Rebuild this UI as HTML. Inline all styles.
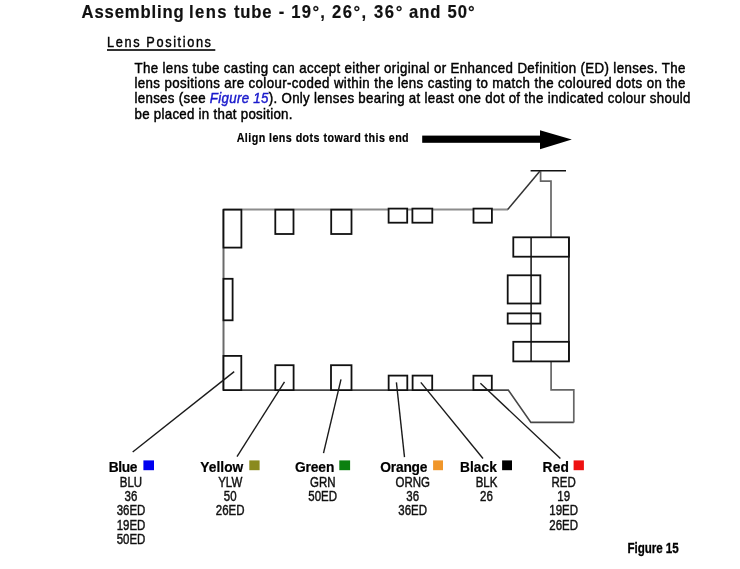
<!DOCTYPE html>
<html><head><meta charset="utf-8"><style>
html,body{margin:0;padding:0;background:#fff;width:740px;height:569px;overflow:hidden}
svg{display:block;font-family:"Liberation Sans", sans-serif;filter:blur(0.35px)}
</style></head><body>
<svg width="740" height="569" viewBox="0 0 740 569">
<path d="M508,209.5 L223.5,209.5" fill="none" stroke="#8c8c8c" stroke-width="2"/>
<path d="M223.5,209.5 L223.5,390.1" fill="none" stroke="#6a6a6a" stroke-width="2"/>
<path d="M223.5,390.1 L508.3,390.1 L530.9,422.4 L573.8,422.4" fill="none" stroke="#474747" stroke-width="1.6"/>
<path d="M573.8,422.4 L573.8,389.9 L551.1,389.9 L551.1,361.5" fill="none" stroke="#666" stroke-width="1.7"/>
<path d="M507.7,209.5 L539.8,171.3" fill="none" stroke="#333" stroke-width="1.5"/>
<path d="M540.6,171.3 L540.6,181.2 L551,181.2 L551,237.4" fill="none" stroke="#666" stroke-width="1.7"/>
<path d="M530.6,170.8 L566,170.8" fill="none" stroke="#111" stroke-width="1.6"/>
<rect x="223.5" y="209.7" width="17.900000000000006" height="37.900000000000006" fill="#fff" stroke="#111" stroke-width="1.8"/>
<rect x="275.3" y="209.7" width="18.19999999999999" height="24.30000000000001" fill="#fff" stroke="#111" stroke-width="1.8"/>
<rect x="331.2" y="209.7" width="20.30000000000001" height="24.30000000000001" fill="#fff" stroke="#111" stroke-width="1.8"/>
<rect x="388.6" y="208.6" width="18.599999999999966" height="14.099999999999994" fill="#fff" stroke="#111" stroke-width="1.8"/>
<rect x="412.4" y="208.6" width="19.900000000000034" height="14.099999999999994" fill="#fff" stroke="#111" stroke-width="1.8"/>
<rect x="473.5" y="208.6" width="18.399999999999977" height="14.099999999999994" fill="#fff" stroke="#111" stroke-width="1.8"/>
<rect x="223.5" y="278.8" width="9.099999999999994" height="41.5" fill="#fff" stroke="#111" stroke-width="1.8"/>
<rect x="223.5" y="355.9" width="17.80000000000001" height="34.200000000000045" fill="#fff" stroke="#111" stroke-width="1.8"/>
<rect x="275.3" y="365.2" width="18.30000000000001" height="24.900000000000034" fill="#fff" stroke="#111" stroke-width="1.8"/>
<rect x="331.0" y="365.2" width="20.5" height="24.900000000000034" fill="#fff" stroke="#111" stroke-width="1.8"/>
<rect x="388.65" y="375.6" width="18.650000000000034" height="14.5" fill="#fff" stroke="#111" stroke-width="1.8"/>
<rect x="412.6" y="375.6" width="19.599999999999966" height="14.5" fill="#fff" stroke="#111" stroke-width="1.8"/>
<rect x="473.4" y="375.7" width="18.400000000000034" height="14.300000000000011" fill="#fff" stroke="#111" stroke-width="1.8"/>
<path d="M568.9,237.3 L568.9,361.4" fill="none" stroke="#111" stroke-width="1.6"/>
<rect x="513.3" y="237.3" width="55.60000000000002" height="19.399999999999977" fill="#fff" stroke="#111" stroke-width="1.8"/>
<rect x="513.3" y="341.8" width="55.60000000000002" height="19.599999999999966" fill="#fff" stroke="#111" stroke-width="1.8"/>
<rect x="507.7" y="275.3" width="32.650000000000034" height="28.19999999999999" fill="#fff" stroke="#111" stroke-width="1.8"/>
<rect x="507.7" y="313.4" width="32.650000000000034" height="10.200000000000045" fill="#fff" stroke="#111" stroke-width="1.8"/>
<path d="M531.1,237.3 L531.1,361.4" fill="none" stroke="#111" stroke-width="1.5"/>
<path d="M234.2,371.6 L132.7,452" fill="none" stroke="#1a1a1a" stroke-width="1.4"/>
<path d="M284.5,381.8 L237,456.6" fill="none" stroke="#1a1a1a" stroke-width="1.4"/>
<path d="M341,379.3 L323.5,453.1" fill="none" stroke="#1a1a1a" stroke-width="1.4"/>
<path d="M396.4,382.4 L404.5,457.2" fill="none" stroke="#1a1a1a" stroke-width="1.4"/>
<path d="M420.8,382.4 L483,458.5" fill="none" stroke="#1a1a1a" stroke-width="1.4"/>
<path d="M480.4,383.3 L560.4,458.5" fill="none" stroke="#1a1a1a" stroke-width="1.4"/>
<rect x="422.2" y="135.6" width="118.5" height="7.2" fill="#000"/>
<path d="M540,130.2 L571.8,139.4 L540,149.2 Z" fill="#000"/>
<rect x="143.4" y="460.4" width="10.599999999999994" height="9.8" fill="#0000f0"/>
<rect x="249.3" y="460.4" width="10.300000000000011" height="9.8" fill="#8a8a1e"/>
<rect x="339.3" y="460.4" width="10.800000000000011" height="9.8" fill="#0b800f"/>
<rect x="433.1" y="460.4" width="9.899999999999977" height="9.8" fill="#f0962a"/>
<rect x="502.1" y="460.4" width="9.899999999999977" height="9.8" fill="#000000"/>
<rect x="573.6" y="460.4" width="10.299999999999955" height="9.8" fill="#ee1111"/>
<text transform="translate(81.60000000000001,18.3) scale(0.9,1)" font-size="18.5" font-weight="bold" fill="#111" text-anchor="start" textLength="113.33" lengthAdjust="spacing" style="stroke:#111;stroke-width:0.2">Assembling</text>
<text transform="translate(188.90000000000003,18.3) scale(0.9,1)" font-size="18.5" font-weight="bold" fill="#111" text-anchor="start" textLength="41.78" lengthAdjust="spacing" style="stroke:#111;stroke-width:0.2">lens</text>
<text transform="translate(233.90000000000003,18.3) scale(0.9,1)" font-size="18.5" font-weight="bold" fill="#111" text-anchor="start" textLength="41.67" lengthAdjust="spacing" style="stroke:#111;stroke-width:0.2">tube</text>
<text transform="translate(278.69999999999993,18.3) scale(0.9,1)" font-size="18.5" font-weight="bold" fill="#111" text-anchor="start" textLength="6.33" lengthAdjust="spacing" style="stroke:#111;stroke-width:0.2">-</text>
<text transform="translate(291.19999999999993,18.3) scale(0.9,1)" font-size="18.5" font-weight="bold" fill="#111" text-anchor="start" textLength="37.56" lengthAdjust="spacing" style="stroke:#111;stroke-width:0.2">19°,</text>
<text transform="translate(332.0,18.3) scale(0.9,1)" font-size="18.5" font-weight="bold" fill="#111" text-anchor="start" textLength="38.00" lengthAdjust="spacing" style="stroke:#111;stroke-width:0.2">26°,</text>
<text transform="translate(373.90000000000003,18.3) scale(0.9,1)" font-size="18.5" font-weight="bold" fill="#111" text-anchor="start" textLength="31.56" lengthAdjust="spacing" style="stroke:#111;stroke-width:0.2">36°</text>
<text transform="translate(409.09999999999997,18.3) scale(0.9,1)" font-size="18.5" font-weight="bold" fill="#111" text-anchor="start" textLength="34.89" lengthAdjust="spacing" style="stroke:#111;stroke-width:0.2">and</text>
<text transform="translate(447.59999999999997,18.3) scale(0.9,1)" font-size="18.5" font-weight="bold" fill="#111" text-anchor="start" textLength="30.11" lengthAdjust="spacing" style="stroke:#111;stroke-width:0.2">50°</text>
<text transform="translate(107,47) scale(0.88,1)" font-size="14.5" font-weight="normal" fill="#000" text-anchor="start" textLength="118.18" lengthAdjust="spacing" style="stroke:#000;stroke-width:0.4">Lens Positions</text>
<text transform="translate(134.5,73.0) scale(0.95,1)" font-size="14" font-weight="normal" fill="#000" text-anchor="start" textLength="580.00" lengthAdjust="spacing" style="stroke:#000;stroke-width:0.45">The lens tube casting can accept either original or Enhanced Definition (ED) lenses. The</text>
<text transform="translate(134.5,88.4) scale(0.95,1)" font-size="14" font-weight="normal" fill="#000" text-anchor="start" textLength="580.00" lengthAdjust="spacing" style="stroke:#000;stroke-width:0.45">lens positions are colour-coded within the lens casting to match the coloured dots on the</text>
<text transform="translate(134.5,103.2) scale(0.95,1)" font-size="14" font-weight="normal" fill="#000" text-anchor="start" textLength="585.26" lengthAdjust="spacing" style="stroke:#000;stroke-width:0.45">lenses (see <tspan fill="#1a1acc" style="stroke:#1a1acc" font-style="italic">Figure 15</tspan>). Only lenses bearing at least one dot of the indicated colour should</text>
<text transform="translate(134.5,118.6) scale(0.95,1)" font-size="14" font-weight="normal" fill="#000" text-anchor="start" textLength="166.32" lengthAdjust="spacing" style="stroke:#000;stroke-width:0.45">be placed in that position.</text>
<text transform="translate(236.7,142.2) scale(0.86,1)" font-size="12.5" font-weight="bold" fill="#000" text-anchor="start" textLength="200.00" lengthAdjust="spacing" style="stroke:#000;stroke-width:0.2">Align lens dots toward this end</text>
<text transform="translate(627.6,553) scale(0.8,1)" font-size="14.5" font-weight="bold" fill="#000" text-anchor="start" textLength="63.75" lengthAdjust="spacing" style="stroke:#000;stroke-width:0.3">Figure 15</text>
<text transform="translate(108.8,471.8) scale(0.95,1)" font-size="14.5" font-weight="bold" fill="#000" text-anchor="start" textLength="30.00" lengthAdjust="spacing" style="stroke:#000;stroke-width:0.2">Blue</text>
<text transform="translate(131.0,486.6) scale(0.82,1)" font-size="14" font-weight="normal" fill="#111" text-anchor="middle" style="stroke:#111;stroke-width:0.45">BLU</text>
<text transform="translate(131.0,501.0) scale(0.82,1)" font-size="14" font-weight="normal" fill="#111" text-anchor="middle" style="stroke:#111;stroke-width:0.45">36</text>
<text transform="translate(131.0,515.4) scale(0.82,1)" font-size="14" font-weight="normal" fill="#111" text-anchor="middle" style="stroke:#111;stroke-width:0.45">36ED</text>
<text transform="translate(131.0,529.8000000000001) scale(0.82,1)" font-size="14" font-weight="normal" fill="#111" text-anchor="middle" style="stroke:#111;stroke-width:0.45">19ED</text>
<text transform="translate(131.0,544.2) scale(0.82,1)" font-size="14" font-weight="normal" fill="#111" text-anchor="middle" style="stroke:#111;stroke-width:0.45">50ED</text>
<text transform="translate(200.3,471.8) scale(0.95,1)" font-size="14.5" font-weight="bold" fill="#000" text-anchor="start" textLength="45.26" lengthAdjust="spacing" style="stroke:#000;stroke-width:0.2">Yellow</text>
<text transform="translate(230.2,486.6) scale(0.82,1)" font-size="14" font-weight="normal" fill="#111" text-anchor="middle" style="stroke:#111;stroke-width:0.45">YLW</text>
<text transform="translate(230.2,501.0) scale(0.82,1)" font-size="14" font-weight="normal" fill="#111" text-anchor="middle" style="stroke:#111;stroke-width:0.45">50</text>
<text transform="translate(230.2,515.4) scale(0.82,1)" font-size="14" font-weight="normal" fill="#111" text-anchor="middle" style="stroke:#111;stroke-width:0.45">26ED</text>
<text transform="translate(295,471.8) scale(0.95,1)" font-size="14.5" font-weight="bold" fill="#000" text-anchor="start" textLength="41.37" lengthAdjust="spacing" style="stroke:#000;stroke-width:0.2">Green</text>
<text transform="translate(322.7,486.6) scale(0.82,1)" font-size="14" font-weight="normal" fill="#111" text-anchor="middle" style="stroke:#111;stroke-width:0.45">GRN</text>
<text transform="translate(322.7,501.0) scale(0.82,1)" font-size="14" font-weight="normal" fill="#111" text-anchor="middle" style="stroke:#111;stroke-width:0.45">50ED</text>
<text transform="translate(380.3,471.8) scale(0.95,1)" font-size="14.5" font-weight="bold" fill="#000" text-anchor="start" textLength="49.68" lengthAdjust="spacing" style="stroke:#000;stroke-width:0.2">Orange</text>
<text transform="translate(412.7,486.6) scale(0.82,1)" font-size="14" font-weight="normal" fill="#111" text-anchor="middle" style="stroke:#111;stroke-width:0.45">ORNG</text>
<text transform="translate(412.7,501.0) scale(0.82,1)" font-size="14" font-weight="normal" fill="#111" text-anchor="middle" style="stroke:#111;stroke-width:0.45">36</text>
<text transform="translate(412.7,515.4) scale(0.82,1)" font-size="14" font-weight="normal" fill="#111" text-anchor="middle" style="stroke:#111;stroke-width:0.45">36ED</text>
<text transform="translate(460.1,471.8) scale(0.95,1)" font-size="14.5" font-weight="bold" fill="#000" text-anchor="start" textLength="38.63" lengthAdjust="spacing" style="stroke:#000;stroke-width:0.2">Black</text>
<text transform="translate(486.5,486.6) scale(0.82,1)" font-size="14" font-weight="normal" fill="#111" text-anchor="middle" style="stroke:#111;stroke-width:0.45">BLK</text>
<text transform="translate(486.5,501.0) scale(0.82,1)" font-size="14" font-weight="normal" fill="#111" text-anchor="middle" style="stroke:#111;stroke-width:0.45">26</text>
<text transform="translate(542.5,471.8) scale(0.95,1)" font-size="14.5" font-weight="bold" fill="#000" text-anchor="start" textLength="27.89" lengthAdjust="spacing" style="stroke:#000;stroke-width:0.2">Red</text>
<text transform="translate(563.7,486.6) scale(0.82,1)" font-size="14" font-weight="normal" fill="#111" text-anchor="middle" style="stroke:#111;stroke-width:0.45">RED</text>
<text transform="translate(563.7,501.0) scale(0.82,1)" font-size="14" font-weight="normal" fill="#111" text-anchor="middle" style="stroke:#111;stroke-width:0.45">19</text>
<text transform="translate(563.7,515.4) scale(0.82,1)" font-size="14" font-weight="normal" fill="#111" text-anchor="middle" style="stroke:#111;stroke-width:0.45">19ED</text>
<text transform="translate(563.7,529.8000000000001) scale(0.82,1)" font-size="14" font-weight="normal" fill="#111" text-anchor="middle" style="stroke:#111;stroke-width:0.45">26ED</text>
<rect x="107" y="49.2" width="108.3" height="1.6" fill="#000"/>
</svg></body></html>
